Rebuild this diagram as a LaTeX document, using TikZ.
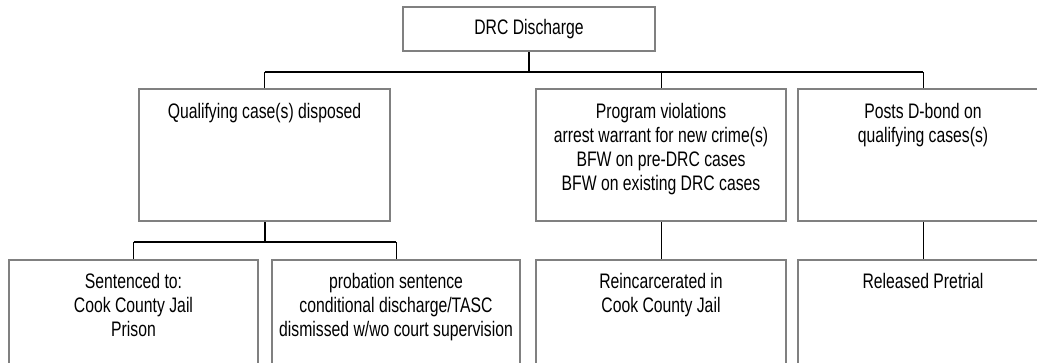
\documentclass[tikz,border=0pt]{standalone}
\usepackage{fontspec}
\setmainfont{Liberation Sans}[FakeStretch=0.75]
\usetikzlibrary{positioning}
\definecolor{boxgray}{RGB}{128,128,128}

\begin{document}
\begin{tikzpicture}[x=1pt, y=-1pt,
    box/.style = {draw=boxgray, line width=2.2pt, minimum height=132,
                  inner sep=0pt, font=\fontsize{21}{24}\selectfont},
    boxtext/.style = {align=center, inner sep=0pt,
                      font=\fontsize{21}{24}\selectfont},
    bar/.style = {line width=2pt},
    drop/.style = {line width=1pt}]

    \clip (0, 0) rectangle (1037, 362);

    \node[box, minimum width=252, minimum height=44] (drc) at (529, 29) {DRC Discharge};

    \node[box, minimum width=251] (qual)  at (264.5, 155) {};
    \node[box, minimum width=250] (prog)  at (661, 155) {};
    \node[box, minimum width=250] (posts) at (923, 155) {};

    \node[box, minimum width=249] (sent)  at (133.5, 326) {};
    \node[box, minimum width=248] (prob)  at (396, 326) {};
    \node[box, minimum width=250] (reinc) at (661, 326) {};
    \node[box, minimum width=250] (rel)   at (923, 326) {};

    \node[boxtext, below=15pt of qual.north] (qualtext)
        {Qualifying case(s) disposed};
    \node[boxtext, below=15pt of prog.north] (progtext)
        {Program violations\\arrest warrant for new crime(s)\\BFW on pre-DRC cases\\BFW on existing DRC cases};
    \node[boxtext, below=15pt of posts.north] (poststext)
        {Posts D-bond on\\qualifying cases(s)};

    \node[boxtext, below=14pt of sent.north] (senttext)
        {Sentenced to:\\Cook County Jail\\Prison};
    \node[boxtext, below=14pt of prob.north] (probtext)
        {probation sentence\\conditional discharge/TASC\\dismissed w/wo court supervision};
    \node[boxtext, below=14pt of reinc.north] (reinctext)
        {Reincarcerated in\\Cook County Jail};
    \node[boxtext, below=14pt of rel.north] (reltext)
        {Released Pretrial};

    \draw[bar] (drc.south) -- ++(0, 20) coordinate (topbar);
    \draw[bar] (qual.north |- topbar) -- (posts.north |- topbar);
    \draw[drop] (qual.north |- topbar) -- (qual.north);
    \draw[drop] (prog.north |- topbar) -- (prog.north);
    \draw[drop] (posts.north |- topbar) -- (posts.north);

    \draw[bar] (qual.south) -- ++(0, 20) coordinate (qualbar);
    \draw[bar] (sent.north |- qualbar) -- (prob.north |- qualbar);
    \draw[drop] (sent.north |- qualbar) -- (sent.north);
    \draw[drop] (prob.north |- qualbar) -- (prob.north);

    \draw[drop] (prog.south) -- (reinc.north);
    \draw[drop] (posts.south) -- (rel.north);

\end{tikzpicture}
\end{document}
